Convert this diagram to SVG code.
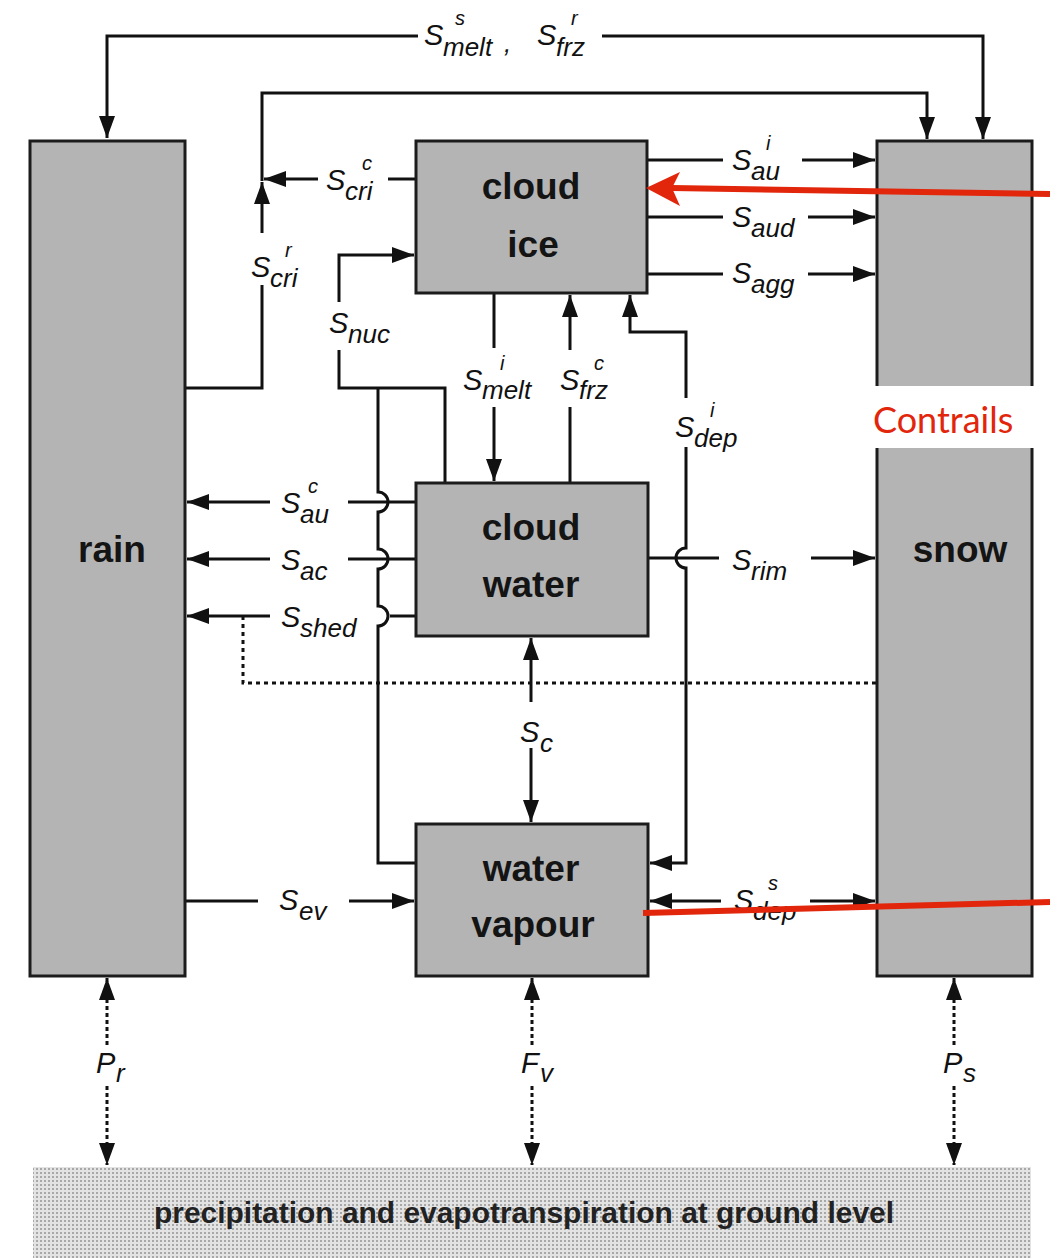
<svg xmlns="http://www.w3.org/2000/svg" width="1050" height="1258" viewBox="0 0 1050 1258">
<style>
.box{fill:#b4b4b4;stroke:#1c1c1c;stroke-width:3}
.ln{fill:none;stroke:#111;stroke-width:3}
.dot{stroke-dasharray:4 4}
.gd{stroke-dasharray:4 3}
.nl{font-family:"Liberation Sans",Arial,sans-serif;font-weight:bold;font-size:37px;fill:#141414;text-anchor:middle}
.s{font-family:"Liberation Sans",Arial,sans-serif;font-style:italic;font-size:29px;fill:#111}
.sub{font-size:26px}
.sup{font-size:20px}
.red{stroke:#e2260b;stroke-width:6;fill:none}
</style>
<defs>
<marker id="ah" markerUnits="userSpaceOnUse" markerWidth="22" markerHeight="16" refX="22" refY="8" orient="auto-start-reverse">
<path d="M0,0 L22,8 L0,16 z" fill="#111"/>
</marker>
<pattern id="dots" width="4" height="4" patternUnits="userSpaceOnUse">
<rect width="4" height="4" fill="#e3e3e3"/>
<rect width="2" height="2" fill="#a8a8a8"/>
</pattern>
</defs>
<rect width="1050" height="1258" fill="#fff"/>

<g id="ground">
<rect x="33" y="1167" width="998" height="91" fill="url(#dots)"/>
<text x="154" y="1223" textLength="740" lengthAdjust="spacingAndGlyphs" style="font-family:'Liberation Sans',Arial,sans-serif;font-weight:bold;font-size:29px;fill:#222">precipitation and evapotranspiration at ground level</text>
</g>

<g id="connectors">
<path class="ln" d="M418,36 H107 V138" marker-end="url(#ah)"/>
<path class="ln" d="M602,36 H983 V139" marker-end="url(#ah)"/>
<path class="ln" d="M185,388 H262 V285"/>
<path class="ln" d="M262,233 V182" marker-end="url(#ah)"/>
<path class="ln" d="M262,181 V93 H927 V139" marker-end="url(#ah)"/>
<path class="ln" d="M416,179 H388"/>
<path class="ln" d="M318,179 H264" marker-end="url(#ah)"/>
<path class="ln" d="M445,483 V388 H339 V350"/>
<path class="ln" d="M339,302 V255 H414" marker-end="url(#ah)"/>
<path class="ln" d="M378,388 V492 A10,10 0 0 1 378,512 V549 A10,10 0 0 1 378,569 V606 A10,10 0 0 1 378,626 V863 H416"/>
<path class="ln" d="M494,293 V348"/>
<path class="ln" d="M494,407 V481" marker-end="url(#ah)"/>
<path class="ln" d="M570,483 V407"/>
<path class="ln" d="M570,350 V295" marker-end="url(#ah)"/>
<path class="ln" d="M630,295 V332 H686 V398" marker-start="url(#ah)"/>
<path class="ln" d="M686,447 V548 A10,10 0 0 0 686,568 V863 H650" marker-end="url(#ah)"/>
<path class="ln" d="M647,160 H723"/>
<path class="ln" d="M802,160 H875" marker-end="url(#ah)"/>
<path class="ln" d="M647,217 H723"/>
<path class="ln" d="M808,217 H875" marker-end="url(#ah)"/>
<path class="ln" d="M647,274 H723"/>
<path class="ln" d="M808,274 H875" marker-end="url(#ah)"/>
<path class="ln" d="M416,502 H348"/>
<path class="ln" d="M270,502 H187" marker-end="url(#ah)"/>
<path class="ln" d="M416,559 H348"/>
<path class="ln" d="M270,559 H187" marker-end="url(#ah)"/>
<path class="ln" d="M416,616 H390"/>
<path class="ln" d="M270,616 H187" marker-end="url(#ah)"/>
<path class="ln dot" d="M243,616 V683 H877"/>
<path class="ln" d="M648,558 H719"/>
<path class="ln" d="M811,558 H875" marker-end="url(#ah)"/>
<path class="ln" d="M531,702 V638" marker-end="url(#ah)"/>
<path class="ln" d="M531,748 V822" marker-end="url(#ah)"/>
<path class="ln" d="M185,901 H258"/>
<path class="ln" d="M349,901 H414" marker-end="url(#ah)"/>
<path class="ln" d="M721,901 H650" marker-end="url(#ah)"/>
<path class="ln" d="M810,901 H875" marker-end="url(#ah)"/>
<path class="ln gd" d="M107,978 V1047" marker-start="url(#ah)"/>
<path class="ln gd" d="M107,1086 V1165" marker-end="url(#ah)"/>
<path class="ln gd" d="M532,978 V1047" marker-start="url(#ah)"/>
<path class="ln gd" d="M532,1086 V1165" marker-end="url(#ah)"/>
<path class="ln gd" d="M954,978 V1047" marker-start="url(#ah)"/>
<path class="ln gd" d="M954,1086 V1165" marker-end="url(#ah)"/>

<text class="s"><tspan x="424" y="45">S</tspan><tspan class="sub" x="443" y="56">melt</tspan><tspan class="sup" x="455" y="25">s</tspan><tspan class="sub" x="504" y="52">,</tspan></text>
<text class="s"><tspan x="537" y="45">S</tspan><tspan class="sub" x="556" y="56">frz</tspan><tspan class="sup" x="571" y="25">r</tspan></text>
<text class="s"><tspan x="326" y="190">S</tspan><tspan class="sub" x="345" y="200">cri</tspan><tspan class="sup" x="362" y="170">c</tspan></text>
<text class="s"><tspan x="251" y="277">S</tspan><tspan class="sub" x="270" y="287">cri</tspan><tspan class="sup" x="285" y="257">r</tspan></text>
<text class="s"><tspan x="329" y="333">S</tspan><tspan class="sub" x="348" y="343">nuc</tspan></text>
<text class="s"><tspan x="463" y="390">S</tspan><tspan class="sub" x="482" y="399">melt</tspan><tspan class="sup" x="500" y="370">i</tspan></text>
<text class="s"><tspan x="560" y="390">S</tspan><tspan class="sub" x="579" y="399">frz</tspan><tspan class="sup" x="594" y="370">c</tspan></text>
<text class="s"><tspan x="675" y="437">S</tspan><tspan class="sub" x="694" y="447">dep</tspan><tspan class="sup" x="710" y="417">i</tspan></text>
<text class="s"><tspan x="732" y="170">S</tspan><tspan class="sub" x="751" y="180">au</tspan><tspan class="sup" x="766" y="150">i</tspan></text>
<text class="s"><tspan x="732" y="227">S</tspan><tspan class="sub" x="751" y="237">aud</tspan></text>
<text class="s"><tspan x="732" y="283">S</tspan><tspan class="sub" x="751" y="293">agg</tspan></text>
<text class="s"><tspan x="281" y="513">S</tspan><tspan class="sub" x="300" y="523">au</tspan><tspan class="sup" x="308" y="493">c</tspan></text>
<text class="s"><tspan x="281" y="570">S</tspan><tspan class="sub" x="300" y="580">ac</tspan></text>
<text class="s"><tspan x="281" y="627">S</tspan><tspan class="sub" x="300" y="637">shed</tspan></text>
<text class="s"><tspan x="732" y="570">S</tspan><tspan class="sub" x="751" y="580">rim</tspan></text>
<text class="s"><tspan x="520" y="742">S</tspan><tspan class="sub" x="540" y="752">c</tspan></text>
<text class="s"><tspan x="279" y="910">S</tspan><tspan class="sub" x="299" y="920">ev</tspan></text>
<text class="s"><tspan x="734" y="910">S</tspan><tspan class="sub" x="753" y="920">dep</tspan><tspan class="sup" x="768" y="890">s</tspan></text>
<text class="s"><tspan x="96" y="1073">P</tspan><tspan class="sub" x="116" y="1082">r</tspan></text>
<text class="s"><tspan x="521" y="1073">F</tspan><tspan class="sub" x="540" y="1082">v</tspan></text>
<text class="s"><tspan x="943" y="1073">P</tspan><tspan class="sub" x="963" y="1082">s</tspan></text>
</g>

<g id="rain">
<rect class="box" x="30" y="141" width="155" height="835"/>
<text class="nl" x="112" y="562">rain</text>
</g>
<g id="snow">
<rect class="box" x="877" y="141" width="155" height="835"/>
<text class="nl" x="960" y="562">snow</text>
</g>
<g id="cloud-ice">
<rect class="box" x="416" y="141" width="231" height="152"/>
<text class="nl" x="531" y="199">cloud</text>
<text class="nl" x="533" y="257">ice</text>
</g>
<g id="cloud-water">
<rect class="box" x="416" y="483" width="232" height="153"/>
<text class="nl" x="531" y="540">cloud</text>
<text class="nl" x="531" y="597">water</text>
</g>
<g id="water-vapour">
<rect class="box" x="416" y="824" width="232" height="152"/>
<text class="nl" x="531" y="881">water</text>
<text class="nl" x="533" y="937">vapour</text>
</g>

<g id="contrails">
<rect x="866" y="386" width="174" height="62" fill="#fff"/>
<text x="873" y="433" style="font-family:Lato,'Open Sans',sans-serif;font-size:36px;fill:#e2260b">Contrails</text>
<path class="red" d="M1050,194 L672,188"/>
<path d="M646,188 L680,172 L672,188 L680,206 z" fill="#e2260b"/>
<path class="red" d="M643,913 L1050,902"/>
</g>
</svg>
